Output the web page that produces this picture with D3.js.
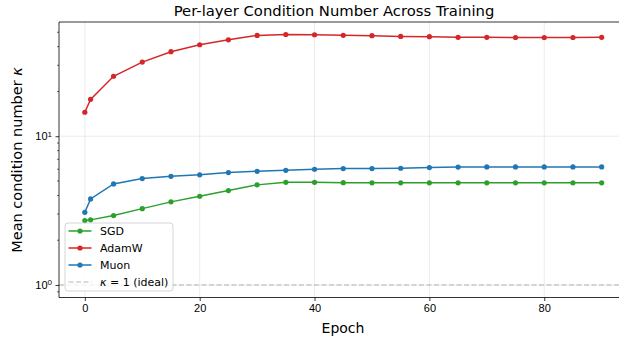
<!DOCTYPE html>
<html>
<head>
<meta charset="utf-8">
<script src="https://cdn.jsdelivr.net/npm/d3@7"></script>
<style>
  body { margin: 0; background: #fff; }
  svg { display: block; font-family: 'DejaVu Sans', sans-serif; overflow: hidden; }
  .tick text { font-size: 11px; fill: #000; }
</style>
</head>
<body>
<div id="chart"></div>
<script>
const epochs = [0, 1, 5, 10, 15, 20, 25, 30, 35, 40, 45, 50, 55, 60, 65, 70, 75, 80, 85, 90];
const sgd = [2.71, 2.74, 2.93, 3.26, 3.62, 3.95, 4.31, 4.71, 4.90, 4.90, 4.87, 4.86, 4.86, 4.86, 4.86, 4.86, 4.86, 4.86, 4.86, 4.86];
const adamw = [14.5, 17.7, 25.3, 31.5, 37.0, 41.2, 44.5, 47.6, 48.3, 48.1, 47.7, 47.4, 46.9, 46.7, 46.2, 46.2, 46.1, 46.1, 46.1, 46.2];
const muon = [3.08, 3.79, 4.78, 5.19, 5.38, 5.50, 5.70, 5.81, 5.90, 6.00, 6.06, 6.06, 6.09, 6.16, 6.20, 6.22, 6.22, 6.22, 6.22, 6.22];
const seriesNames = ['SGD', 'AdamW', 'Muon'];
const seriesColors = ['#2ca02c', '#d62728', '#1f77b4'];
const xTicks = [0, 20, 40, 60, 80];

const width = 619;
const height = 341;
const margin = { top: 22, left: 59, bottom: 297.5 };
const plotRight = 627.5;

const svg = d3.select('#chart').append('svg')
    .attr('width', width).attr('height', height);

const x = d3.scaleLinear().domain([-4.5, 94.5]).range([margin.left, plotRight]);
const y = d3.scaleLog().domain([Math.pow(10, -0.0842), Math.pow(10, 1.768)]).range([margin.bottom, margin.top]);

// grid
const grid = svg.append('g');
grid.selectAll('line.vx').data(xTicks).enter().append('line')
    .attr('x1', d => x(d)).attr('x2', d => x(d))
    .attr('y1', margin.top).attr('y2', margin.bottom)
    .attr('stroke', '#b0b0b0').attr('stroke-opacity', 0.3).attr('stroke-width', 0.8);
grid.selectAll('line.hy').data([1, 10]).enter().append('line')
    .attr('x1', margin.left).attr('x2', plotRight)
    .attr('y1', d => y(d)).attr('y2', d => y(d))
    .attr('stroke', '#b0b0b0').attr('stroke-opacity', 0.3).attr('stroke-width', 0.8);

// ideal line
svg.append('line')
    .attr('x1', margin.left).attr('x2', plotRight)
    .attr('y1', y(1)).attr('y2', y(1))
    .attr('stroke', '#999').attr('stroke-opacity', 0.7)
    .attr('stroke-width', 1.2).attr('stroke-dasharray', '5,2.5');

// series
const data = [sgd, adamw, muon];
const line = d3.line().x((d, i) => x(epochs[i])).y(d => y(d));
data.forEach((vals, k) => {
    const g = svg.append('g');
    g.append('path').datum(vals)
        .attr('d', line).attr('fill', 'none')
        .attr('stroke', seriesColors[k]).attr('stroke-width', 1.5);
    g.selectAll('circle').data(vals).enter().append('circle')
        .attr('cx', (d, i) => x(epochs[i])).attr('cy', d => y(d))
        .attr('r', 2.6).attr('fill', seriesColors[k]);
});

// spines
svg.append('line').attr('x1', margin.left).attr('x2', margin.left)
    .attr('y1', margin.top).attr('y2', margin.bottom).attr('stroke', '#000').attr('stroke-width', 0.8);
svg.append('line').attr('x1', margin.left).attr('x2', plotRight)
    .attr('y1', margin.bottom).attr('y2', margin.bottom).attr('stroke', '#000').attr('stroke-width', 0.8);
svg.append('line').attr('x1', margin.left).attr('x2', plotRight)
    .attr('y1', margin.top).attr('y2', margin.top).attr('stroke', '#000').attr('stroke-width', 0.8);

// x axis
const xAxis = svg.append('g')
    .attr('transform', `translate(0,${margin.bottom})`)
    .call(d3.axisBottom(x).tickValues(xTicks).tickSize(3.5).tickPadding(3.5).tickFormat(d3.format('d')));
xAxis.select('.domain').remove();
xAxis.selectAll('.tick line').attr('stroke-width', 0.8);

// y axis major
const yAxis = svg.append('g')
    .attr('transform', `translate(${margin.left},0)`)
    .call(d3.axisLeft(y).tickValues([1, 10]).tickSize(3.5).tickPadding(3.5).tickFormat(''));
yAxis.select('.domain').remove();
yAxis.selectAll('.tick line').attr('stroke-width', 0.8);
yAxis.selectAll('.tick').each(function (d) {
    const t = d3.select(this).append('text')
        .attr('x', -7).attr('dy', '0.32em').attr('text-anchor', 'end');
    t.append('tspan').text('10');
    t.append('tspan').attr('dy', '-0.45em').attr('font-size', '8px').text(Math.round(Math.log10(d)));
});

// y minor ticks
const minor = [0.9, 2, 3, 4, 5, 6, 7, 8, 9, 20, 30, 40, 50];
svg.append('g').selectAll('line').data(minor).enter().append('line')
    .attr('x1', margin.left - 2).attr('x2', margin.left)
    .attr('y1', d => y(d)).attr('y2', d => y(d))
    .attr('stroke', '#000').attr('stroke-width', 0.6);

// labels
svg.append('text').attr('x', 334).attr('y', 16).attr('text-anchor', 'middle')
    .attr('font-size', '14.8px').text('Per-layer Condition Number Across Training');
svg.append('text').attr('x', 343).attr('y', 333).attr('text-anchor', 'middle')
    .attr('font-size', '14px').text('Epoch');
const yl = svg.append('text').attr('transform', `translate(22,160) rotate(-90)`)
    .attr('text-anchor', 'middle').attr('font-size', '14.5px');
yl.append('tspan').text('Mean condition number ');
yl.append('tspan').attr('font-style', 'italic').text('κ');

// legend
const legend = svg.append('g').attr('transform', 'translate(65,223)');
legend.append('rect').attr('width', 108).attr('height', 68).attr('rx', 3)
    .attr('fill', '#fff').attr('fill-opacity', 0.8)
    .attr('stroke', '#ccc').attr('stroke-width', 0.8);
const items = seriesNames.map((n, i) => ({ name: n, color: seriesColors[i] }));
items.forEach((it, i) => {
    const cy = 8 + i * 17;
    legend.append('line').attr('x1', 3.5).attr('x2', 26.5).attr('y1', cy).attr('y2', cy)
        .attr('stroke', it.color).attr('stroke-width', 1.5);
    legend.append('circle').attr('cx', 15).attr('cy', cy).attr('r', 2.6).attr('fill', it.color);
    legend.append('text').attr('x', 35).attr('y', cy).attr('dy', '0.35em')
        .attr('font-size', '11px').text(it.name);
});
const cy4 = 8 + 3 * 17;
legend.append('line').attr('x1', 3.5).attr('x2', 26.5).attr('y1', cy4).attr('y2', cy4)
    .attr('stroke', '#999').attr('stroke-opacity', 0.7).attr('stroke-width', 1.2).attr('stroke-dasharray', '5,2.5');
const kt = legend.append('text').attr('x', 35).attr('y', cy4).attr('dy', '0.35em').attr('font-size', '11px');
kt.append('tspan').attr('font-style', 'italic').text('κ');
kt.append('tspan').text(' = 1 (ideal)');
</script>
</body>
</html>
